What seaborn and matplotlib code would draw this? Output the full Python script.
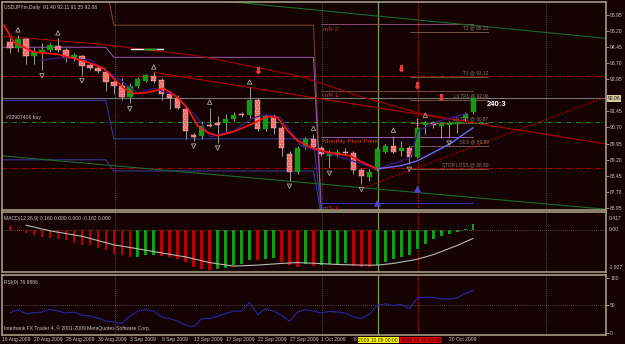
import matplotlib
matplotlib.use("Agg")
import matplotlib.pyplot as plt
import matplotlib.transforms as mtransforms
import seaborn as sns
import numpy as np
import pandas as pd

# ---------------- data ----------------
bars = list(range(59))
opens = [94.67, 94.39, 94.82, 94.02, 94.21, 94.30, 94.49, 94.30, 93.92, 94.02,
         93.60, 93.46, 93.27, 92.80, 92.61, 92.10, 92.61, 92.85, 93.08, 92.89,
         92.28, 92.05, 91.58, 90.36, 90.32, 90.83, 90.92, 90.92, 91.11, 91.35,
         91.30, 91.96, 90.64, 91.25, 90.69, 89.47, 88.63, 89.80, 90.17, 89.75,
         89.38, 89.42, 89.57, 89.52, 88.72, 88.39, 88.72, 89.57, 89.85, 89.61,
         89.75, 89.33, 90.83, 90.92, 90.78, 90.83, 90.88, 91.16, 91.40]
highs = [94.86, 95.00, 94.86, 94.44, 94.63, 94.63, 94.86, 94.39, 94.16, 94.07,
         93.74, 93.55, 93.36, 92.89, 92.99, 92.75, 93.04, 93.18, 93.27, 92.99,
         92.42, 92.19, 91.72, 90.46, 91.02, 91.63, 91.25, 91.35, 91.40, 91.40,
         92.57, 92.05, 91.35, 91.35, 90.78, 89.61, 89.85, 90.27, 90.41, 89.85,
         89.66, 89.71, 89.75, 89.61, 88.81, 88.77, 89.80, 89.94, 90.32, 90.08,
         89.85, 91.16, 91.02, 91.02, 90.92, 91.02, 91.02, 91.40, 92.11]
lows = [94.16, 94.21, 93.64, 93.64, 93.36, 94.21, 94.21, 93.74, 93.78, 93.13,
        93.36, 93.22, 92.42, 92.28, 91.96, 91.82, 92.52, 92.80, 92.75, 91.96,
        91.58, 91.58, 90.17, 90.08, 90.17, 90.74, 89.99, 90.46, 91.02, 91.21,
        91.16, 90.55, 90.55, 90.41, 89.38, 88.21, 88.53, 89.71, 89.75, 89.38,
        88.81, 89.33, 89.42, 88.53, 88.06, 88.21, 88.67, 89.52, 89.52, 89.38,
        89.00, 89.28, 90.41, 90.69, 90.22, 90.22, 90.46, 91.02, 91.35]
closes = [94.39, 94.82, 94.02, 94.21, 94.30, 94.53, 94.30, 93.92, 94.07, 93.55,
          93.46, 93.32, 92.80, 92.61, 92.10, 92.61, 92.94, 93.13, 92.85, 92.24,
          92.05, 91.63, 90.55, 90.27, 90.78, 90.78, 90.83, 91.11, 91.30, 91.30,
          91.96, 90.64, 91.25, 90.69, 89.75, 88.63, 89.75, 90.17, 89.80, 89.47,
          89.57, 89.57, 89.52, 88.72, 88.44, 88.63, 89.71, 89.85, 89.57, 89.75,
          89.33, 90.69, 90.92, 90.83, 90.88, 90.92, 90.97, 91.35, 92.06]

# moving averages (bar, price)
fast_ma_bars = [-0.75, 0.5, 3.0, 6.0, 8.0, 9.75, 11.75, 13.0, 14.25, 15.5, 17.25, 19.25,
                21.0, 22.25, 23.5, 24.75, 26.0, 28.0, 30.1, 32.25, 33.5, 34.75, 36.0,
                38.0, 40.1, 42.6, 44.25, 46.0]
fast_ma_vals = [95.47, 94.67, 94.21, 94.11, 93.92, 93.74, 93.46, 92.99, 92.52, 92.28, 92.33,
                92.52, 92.10, 91.58, 90.78, 90.46, 90.31, 90.50, 90.83, 91.21, 91.16, 90.55,
                90.08, 89.71, 89.52, 89.38, 89.05, 88.77]
up_ma_bars = [46.0, 48.9, 51.0, 55.1, 58.0]
up_ma_vals = [88.77, 88.91, 89.14, 89.94, 90.69]
mid_ma_bars = [3.9, 6.75, 10.1, 13.9, 16.0, 18.0, 20.75, 23.25, 25.1, 28.0, 30.5, 32.0,
               33.9, 36.4, 40.1, 46.0, 50.1, 51.1, 53.9, 57.25]
mid_ma_vals = [93.83, 93.97, 93.83, 92.89, 92.28, 92.52, 92.19, 91.25, 90.27, 90.55, 91.16,
               91.30, 91.16, 89.85, 89.47, 88.77, 89.28, 90.55, 91.02, 91.35]
slow_ma_bars = [-1.125, 11.4, 23.9, 36.4, 43.9, 51.4, 58.1]
slow_ma_vals = [94.96, 94.58, 94.02, 93.08, 92.14, 91.35, 90.92]

# trend lines (bar, price)
down_trend_bars = [18.0, 74.5]
down_trend_vals = [93.27, 89.94]
up_trend_bars = [44.25, 74.5]
up_trend_vals = [87.88, 92.10]
green_top_bars = [25.5, 74.5]
green_top_vals = [96.64, 94.86]
green_low_bars = [-1.125, 74.5]
green_low_vals = [89.38, 86.89]

# monthly pivot lines (bar, price)
pivR2_bars = [12.4, 13.0, 38.0, 39.0]
pivR2_vals = [96.64, 95.47, 95.47, 86.56]
pivP_bars = [-1.125, 12.0, 13.0, 38.0, 39.0]
pivP_vals = [94.44, 94.44, 93.97, 93.97, 86.56]
pivS1_bars = [-1.125, 12.0, 13.0, 38.0, 39.0]
pivS1_vals = [91.96, 91.96, 90.17, 90.17, 86.56]
pivS2_bars = [-1.125, 12.0, 13.0, 38.0, 39.0]
pivS2_vals = [89.19, 89.19, 88.67, 88.67, 86.56]
oct_levels = {"mR 2": 95.52, "mR 1": 92.42, "Monthly Pivot Point": 90.27, "mS 1": 87.17}

# trade levels
trade_names = ["T2 @ 95.23", "T1 @ 93.12", "L0 TP1 @ 92.06", "ENTRY @ 90.97", "50.0 @ 89.89", "STOP LOSS @ 88.80"]
trade_levels = [95.23, 93.12, 92.06, 90.97, 89.89, 88.80]
current_price = 92.06

up_fractal_bars = [1, 6, 18, 25, 30, 38, 48, 52]
down_fractal_bars = [4, 9, 15, 23, 26, 35, 40, 44, 50, 55]
sell_arrow_bars = [31, 49, 51, 54]
sell_arrow_vals = [93.36, 93.46, 92.66, 92.14]
buy_arrow_bars = [46, 51]
buy_arrow_vals = [87.17, 87.83]

macd_hist = [0.16, 0.06, -0.16, -0.25, -0.36, -0.41, -0.44, -0.49, -0.63, -0.72,
             -0.75, -0.86, -0.99, -1.14, -1.22, -1.32, -1.30, -1.22, -1.19, -1.25,
             -1.30, -1.38, -1.54, -1.76, -1.86, -1.93, -1.90, -1.82, -1.70, -1.62,
             -1.45, -1.46, -1.38, -1.36, -1.54, -1.70, -1.78, -1.62, -1.74, -1.70,
             -1.66, -1.64, -1.60, -1.74, -1.78, -1.80, -1.69, -1.53, -1.41, -1.30,
             -1.19, -0.91, -0.67, -0.44, -0.31, -0.20, -0.09, 0.03, 0.27]
signal_bars = [2, 5, 9, 13, 16, 19, 22, 25, 28, 31, 34, 36, 38, 41, 44, 46, 48, 51, 53, 56, 58]
signal_vals = [0.22, -0.05, -0.31, -0.72, -0.91, -1.11, -1.30, -1.57, -1.74, -1.69, -1.61,
               -1.57, -1.60, -1.66, -1.69, -1.69, -1.61, -1.41, -1.19, -0.75, -0.41]
rsi_vals = [36.9, 42.3, 35.1, 36.9, 38.1, 42.9, 39.9, 36.3, 38.1, 32.1,
            31.0, 27.4, 22.0, 20.2, 17.3, 30.4, 39.9, 42.3, 39.9, 29.2,
            26.2, 22.0, 14.3, 11.3, 26.2, 26.2, 30.4, 35.1, 39.9, 39.9,
            56.0, 33.9, 44.0, 39.9, 32.1, 21.4, 38.1, 42.3, 39.9, 36.3,
            39.3, 38.1, 36.3, 29.2, 26.2, 33.9, 50.0, 53.0, 50.0, 51.8,
            44.0, 63.7, 64.9, 64.9, 61.9, 61.9, 63.7, 72.0, 77.0]

date_bars = [-1, 3, 7, 11, 15, 19, 23, 27, 31, 35, 39, 43, 55]
date_labels = ["16 Aug 2009", "20 Aug 2009", "25 Aug 2009", "30 Aug 2009", "3 Sep 2009",
               "8 Sep 2009", "13 Sep 2009", "17 Sep 2009", "22 Sep 2009", "27 Sep 2009",
               "1 Oct 2009", "6", "20 Oct 2009"]
price_ticks = [95.95, 95.20, 94.45, 93.70, 92.95, 92.20, 91.45, 90.70, 89.95, 89.20, 88.45, 87.70, 86.95]
separator_bars = [13.1, 39.1, 67.1]
green_vline_bar = 46.1
red_vline_bar = 51.1

# ---------------- style ----------------
BG = "#150303"
FRAME = "#a49c80"
TXT = "#c4c4c4"
sns.set_theme(style="dark", rc={"axes.facecolor": BG, "figure.facecolor": BG,
                                "hatch.linewidth": 0.4, "patch.edgecolor": "none"})
plt.rcParams["font.family"] = ["Liberation Sans", "DejaVu Sans"]
FS = 3.6

W, H = 625, 344
def rect(l, t, r, b):
    return [l / W, 1 - b / H, (r - l) / W, (b - t) / H]

fig = plt.figure(figsize=(W / 100, H / 100), dpi=100)
ax = fig.add_axes(rect(2, 2, 606, 210))
axm = fig.add_axes(rect(2, 212, 606, 272), sharex=ax)
axr = fig.add_axes(rect(2, 275, 606, 335), sharex=ax)

for a in (ax, axm, axr):
    a.set_facecolor(BG)
    for s in a.spines.values():
        s.set_color(FRAME)
        s.set_linewidth(1.2)
    a.grid(False)
    a.yaxis.tick_right()
    a.tick_params(axis="y", labelsize=FS, colors=TXT, length=2, width=0.5, pad=1)
    a.tick_params(axis="x", length=0, labelsize=FS, colors=TXT, pad=1.5)
    a.set_xlabel("")
    a.set_ylabel("")
    for sb in separator_bars:
        a.axvline(sb, color="#8a8a8a", lw=0.5, ls=(0, (1, 2)), zorder=1)
    a.axvline(green_vline_bar, color="#7f9a4c", lw=0.9, zorder=2)
    a.axvline(red_vline_bar, color="#c01818", lw=0.7, ls=(0, (1.5, 1.5)), zorder=2)

ax.set_xlim(-0.875, 74.625)
ax.set_ylim(86.85, 96.55)

df = pd.DataFrame({"bar": bars, "open": opens, "high": highs, "low": lows, "close": closes})
df["bull"] = df["close"] >= df["open"]
df["lo"] = df[["open", "close"]].min(axis=1)
df["h"] = (df["close"] - df["open"]).abs().clip(lower=0.035)

def line(a, xs, ys, color, lw=0.8, ls="-", z=3):
    sns.lineplot(x=xs, y=ys, ax=a, color=color, lw=lw, ls=ls, sort=False,
                 estimator=None, zorder=z, legend=False)

# horizontal levels
ax.axhline(current_price, color="#7c7c7c", lw=0.7, zorder=2)
ax.axhline(trade_levels[1], color="#c00000", lw=0.7, ls=(0, (5, 2, 1, 2)), zorder=2)
ax.axhline(trade_levels[3], color="#1e8a1e", lw=0.7, ls=(0, (5, 2, 1, 2)), zorder=2)
ax.axhline(trade_levels[5], color="#c00000", lw=0.7, ls=(0, (5, 2, 1, 2)), zorder=2)

# pivot lines
line(ax, pivR2_bars, pivR2_vals, "#7a4636", 0.7, z=2)
line(ax, pivP_bars, pivP_vals, "#9a58b0", 0.7, z=2)
line(ax, pivS1_bars, pivS1_vals, "#3a3ab0", 0.7, z=2)
line(ax, pivS2_bars, pivS2_vals, "#3a3ab0", 0.7, z=2)
oct_colors = {"mR 2": "#8a4a70", "mR 1": "#7a4636", "Monthly Pivot Point": "#9a58b0", "mS 1": "#3a3ab0"}
for name, lvl in oct_levels.items():
    line(ax, [39.0, 58.0], [lvl, lvl], oct_colors[name], 0.7, z=2)
    ax.text(39.2, lvl - 0.12, name, color="#d03a20", fontsize=4.6, va="top", ha="left", zorder=6)

# trend lines
line(ax, green_top_bars, green_top_vals, "#1f6a2a", 0.8, z=2)
line(ax, green_low_bars, green_low_vals, "#1f6a2a", 0.8, z=2)
line(ax, down_trend_bars, down_trend_vals, "#b00000", 0.8, z=2)
line(ax, up_trend_bars, up_trend_vals, "#c00000", 0.7, ls=(0, (2, 1.5)), z=2)
line(ax, slow_ma_bars, slow_ma_vals, "#a00000", 0.8, z=3)

# small weekly marker
line(ax, [15.1, 19.1], [94.35, 94.35], "#ffffff", 1.0, z=3)
line(ax, [16.75, 18.25], [94.35, 94.35], "#1ea01e", 1.0, z=3)

# trade level short lines and labels
for name, lvl in zip(trade_names, trade_levels):
    line(ax, [50.1, 59.9], [lvl - 0.06, lvl - 0.06], "#6e5440", 0.7, z=3)
    ax.text(59.9, lvl + 0.02, name, color="#8a7a6a", fontsize=3.4, ha="right", va="bottom", zorder=6)

# candles
ax.vlines(df["bar"], df["low"], df["high"], color="#9a9a9a", lw=0.7, zorder=4)
bull = df[df["bull"]]
bear = df[~df["bull"]]
ax.bar(bull["bar"], bull["h"], bottom=bull["lo"], width=0.68, color="#159a15",
       edgecolor="#159a15", lw=0.3, zorder=5)
ax.bar(bear["bar"], bear["h"], bottom=bear["lo"], width=0.68, color="#f06a6a",
       edgecolor="#ffb8b8", hatch="......", lw=0.3, zorder=5)

# moving averages
line(ax, mid_ma_bars, mid_ma_vals, "#3a1a8a", 0.9, z=6)
line(ax, fast_ma_bars, fast_ma_vals, "#ff1010", 1.2, z=6)
line(ax, up_ma_bars, up_ma_vals, "#6a6aff", 1.0, z=6)

# fractals and arrows
hi = df.set_index("bar")["high"]
lo = df.set_index("bar")["low"]
ax.scatter(up_fractal_bars, hi[up_fractal_bars] + 0.25, marker="^", s=10, facecolors="none",
           edgecolors="#a8a8a8", lw=0.6, zorder=7)
ax.scatter(down_fractal_bars, lo[down_fractal_bars] - 0.25, marker="v", s=10, facecolors="none",
           edgecolors="#a8a8a8", lw=0.6, zorder=7)
ax.scatter(sell_arrow_bars, sell_arrow_vals, marker=r"$\Downarrow$", s=18, color="#e03a3a", zorder=7)
ax.scatter(buy_arrow_bars, buy_arrow_vals, marker="^", s=14, color="#4646c8", zorder=7)

# texts
ax.text(0.004, 0.985, "USDJPYm,Daily  91.40 92.11 91.35 92.06", transform=ax.transAxes,
        color=TXT, fontsize=FS, va="top", ha="left")
ax.text(-0.5, trade_levels[3] + 0.1, "#22907406 buy", color=TXT, fontsize=FS, va="bottom", ha="left")
ax.text(59.7, 91.75, "240:3", color="white", fontsize=5.5, fontweight="bold", va="center", ha="left", zorder=8)

ax.set_yticks(price_ticks)
ax.set_yticklabels(["" if abs(v - current_price) < 0.3 else f"{v:.2f}" for v in price_ticks])
ax.text(1.003, current_price, f"{current_price:.2f}", transform=mtransforms.blended_transform_factory(ax.transAxes, ax.transData),
        fontsize=FS, color="#101010", va="center", ha="left", zorder=9,
        bbox=dict(boxstyle="square,pad=0.15", fc="#d8c8a0", ec="none"), clip_on=False)
plt.setp(ax.get_xticklabels(), visible=False)

# MACD pane
mdf = pd.DataFrame({"bar": bars, "macd": macd_hist})
mdf["rising"] = mdf["macd"].diff().fillna(-1) > 0
axm.set_ylim(-2.02, 0.85)
axm.axhline(0, color="#8a8a8a", lw=0.5, ls=(0, (1, 2)), zorder=1)
axm.bar(mdf["bar"], mdf["macd"], width=0.32, color=np.where(mdf["rising"], "#12a012", "#b80000"),
        edgecolor="none", lw=0, zorder=3)
line(axm, signal_bars, signal_vals, "#b8b8b8", 0.8, z=4)
axm.set_yticks([])
axm.text(0.004, 0.93, "MACD(12,26,9) 0.160 0.080 0.000 -0.182 0.000", transform=axm.transAxes,
         color=TXT, fontsize=FS, va="top", ha="left")
bt = mtransforms.blended_transform_factory(axm.transAxes, axm.transData)
axm.text(1.004, 0.94, "0.417", transform=axm.transAxes, color=TXT, fontsize=FS, va="top", ha="left", clip_on=False)
axm.text(1.004, 0.0, "0.00", transform=bt, color=TXT, fontsize=FS, va="center", ha="left", clip_on=False)
axm.text(1.004, 0.03, "-1.927", transform=axm.transAxes, color=TXT, fontsize=FS, va="bottom", ha="left", clip_on=False)
plt.setp(axm.get_xticklabels(), visible=False)

# RSI pane
axr.set_ylim(-3.6, 105.4)
axr.axhline(50, color="#8a8a8a", lw=0.5, ls=(0, (1, 2)), zorder=1)
line(axr, bars, rsi_vals, "#2a22a8", 0.8, z=4)
axr.set_yticks([0, 50, 100])
axr.set_yticklabels(["0", "50", "100"])
axr.text(0.004, 0.92, "RSI(9) 76.9886", transform=axr.transAxes, color=TXT, fontsize=FS, va="top", ha="left")
axr.text(0.004, 0.06, "Interbank FX Trader 4, \u00a9 2001-2009 MetaQuotes Software Corp.",
         transform=axr.transAxes, color=TXT, fontsize=FS, va="bottom", ha="left")
axr.set_xticks(date_bars)
axr.set_xticklabels(date_labels, ha="left")
xt = axr.get_xaxis_transform()
axr.text(green_vline_bar, -0.085, "2009.10.09 00:00", transform=xt, fontsize=FS, color="#202020",
         ha="center", va="center", zorder=10, clip_on=False,
         bbox=dict(boxstyle="square,pad=0.15", fc="#ffff00", ec="none"))
axr.text(red_vline_bar + 0.3, -0.085, "2009.10.15 00:00", transform=xt, fontsize=FS, color="#1a0000",
         ha="center", va="center", zorder=10, clip_on=False,
         bbox=dict(boxstyle="square,pad=0.15", fc="#e00000", ec="none"))

fig.savefig("out.png", dpi=100, facecolor=BG)
